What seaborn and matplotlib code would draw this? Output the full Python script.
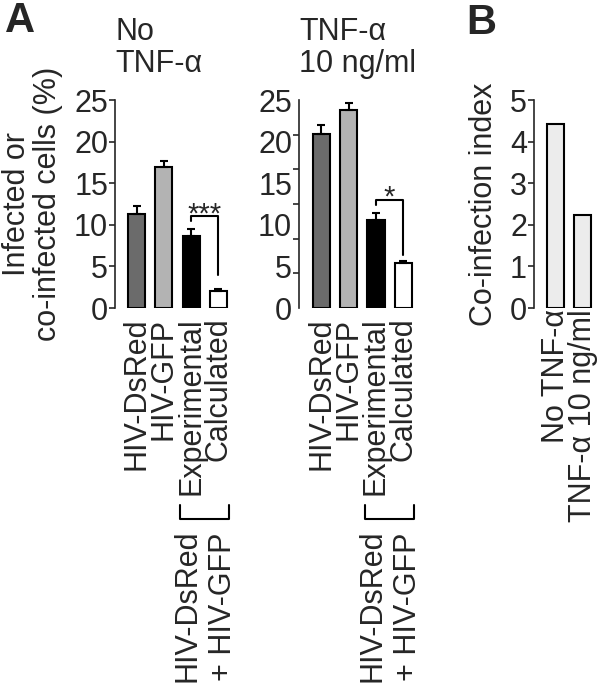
import numpy as np
import pandas as pd
import matplotlib
matplotlib.use("Agg")
import matplotlib.pyplot as plt
import seaborn as sns

# ---------------- data ----------------
groups = ["HIV-DsRed", "HIV-GFP", "Experimental", "Calculated"]
no_tnf_mean = [11.3, 17.0, 8.6, 2.1]
no_tnf_err = [1.0, 0.7, 0.9, 0.2]
tnf_mean = [20.9, 23.8, 10.55, 5.4]
tnf_err = [1.15, 0.8, 0.9, 0.2]
bar_colors = ["#6b6b6b", "#b3b3b3", "#000000", "#ffffff"]

index_labels = ["No TNF-α", "TNF-α 10 ng/ml"]
coinfection_index = [4.43, 2.24]

panel_titles = ["No\nTNF-α", "TNF-α\n10 ng/ml"]
sig_labels = ["***", "*"]
# bracket: [left foot, top, right foot] in data units
sig_brackets = [[10.4, 11.0, 4.0], [12.4, 13.0, 6.4]]
combo_labels = ["HIV-DsRed", "+ HIV-GFP"]

sns.set_style("ticks")
plt.rcParams["font.family"] = ["Liberation Sans", "DejaVu Sans"]
plt.rcParams["axes.linewidth"] = 1.2
plt.rcParams["xtick.major.width"] = 1.2
plt.rcParams["ytick.major.width"] = 1.2
plt.rcParams["ytick.minor.width"] = 1.2

FS = 22
W, H = 600, 684
fig = plt.figure(figsize=(W / 100, H / 100), dpi=100)


def axes_px(left, right, top, bottom):
    return fig.add_axes([left / W, (H - bottom) / H, (right - left) / W, (bottom - top) / H])


ax1 = axes_px(115, 232, 100, 308)
ax2 = axes_px(299, 416, 100, 308)
ax3 = axes_px(534, 596, 100, 308)


def panel(ax, means, errs, title, sig, bracket, xlim, odd_ticks=False):
    df = pd.DataFrame({"group": groups, "value": means})
    sns.barplot(data=df, x="group", y="value", hue="group", palette=bar_colors,
                legend=False, errorbar=None, width=0.63, edgecolor="black",
                linewidth=1.5, ax=ax, zorder=2)
    xs = np.arange(len(groups))
    ax.errorbar(xs, means, yerr=[np.zeros(len(errs)), errs], fmt="none",
                ecolor="black", elinewidth=1.5, capsize=3, capthick=1.5, zorder=3)
    ax.set_xlim(*xlim)
    ax.set_ylim(0, 25)
    ax.set_xlabel("")
    ax.set_ylabel("")
    if odd_ticks:
        ax.set_yticks(np.arange(0, 26, 5))
        ax.set_yticklabels([str(v) for v in range(0, 26, 5)])
        ax.tick_params(axis="y", which="major", length=0, pad=5)
        ax.set_yticks(np.linspace(0, 25, 7), minor=True)
        ax.tick_params(axis="y", which="minor", length=4, direction="out")
    else:
        ax.set_yticks(np.arange(0, 26, 5))
        ax.tick_params(axis="y", length=4, pad=1)
    ax.tick_params(axis="y", labelsize=FS)
    ax.tick_params(axis="x", length=0, pad=7, labelsize=FS)
    ax.set_xticks(xs)
    ax.set_xticklabels(groups, rotation=90)
    sns.despine(ax=ax, bottom=True)
    ax.set_title(title, loc="left", fontsize=FS, pad=20, linespacing=1.1)
    # significance bracket
    lf, top, rf = bracket
    ax.plot([2, 2, 3, 3], [lf, top, top, rf], color="black", lw=1.5, zorder=4)
    ax.text(2.5, top - 0.7, sig, ha="center", va="baseline", fontsize=FS - 1)
    # grouping bracket below labels
    tr = ax.get_xaxis_transform()
    ax.plot([1.6, 1.6, 3.4, 3.4], [-0.947, -1.014, -1.014, -0.947], color="black",
            lw=1.5, transform=tr, clip_on=False)
    ax.text(1.87, -1.067, combo_labels[0], rotation=90, ha="center", va="top",
            fontsize=FS, transform=tr)
    ax.text(3.17, -1.082, combo_labels[1], rotation=90, ha="center", va="top",
            fontsize=FS, transform=tr)


panel(ax1, no_tnf_mean, no_tnf_err, panel_titles[0], sig_labels[0], sig_brackets[0], (-0.79, 3.5))
panel(ax2, tnf_mean, tnf_err, panel_titles[1], sig_labels[1], sig_brackets[1], (-0.82, 3.47), odd_ticks=True)

ax1.set_ylabel("Infected or\nco-infected cells (%)", fontsize=FS, linespacing=1.05, labelpad=8)

# panel B
dfb = pd.DataFrame({"cond": index_labels, "value": coinfection_index})
sns.barplot(data=dfb, x="cond", y="value", color="#ececec", errorbar=None, width=0.64,
            edgecolor="black", linewidth=1.5, ax=ax3)
ax3.set_xlim(-0.82, 1.5)
ax3.set_ylim(0, 5)
ax3.set_yticks(range(0, 6))
ax3.tick_params(axis="y", length=4, pad=1, labelsize=FS)
ax3.tick_params(axis="x", length=0, pad=1, labelsize=FS)
ax3.set_xticks([0, 1])
ax3.set_xticklabels(index_labels, rotation=90)
ax3.set_xlabel("")
ax3.set_ylabel("Co-infection index", fontsize=FS, labelpad=8)
sns.despine(ax=ax3, bottom=True)

fig.text(5 / W, 1 - 1 / H, "A", fontsize=30, fontweight="bold", va="top", ha="left")
fig.text(466 / W, 1 - 3 / H, "B", fontsize=30, fontweight="bold", va="top", ha="left")

fig.savefig("out.png", dpi=100)
